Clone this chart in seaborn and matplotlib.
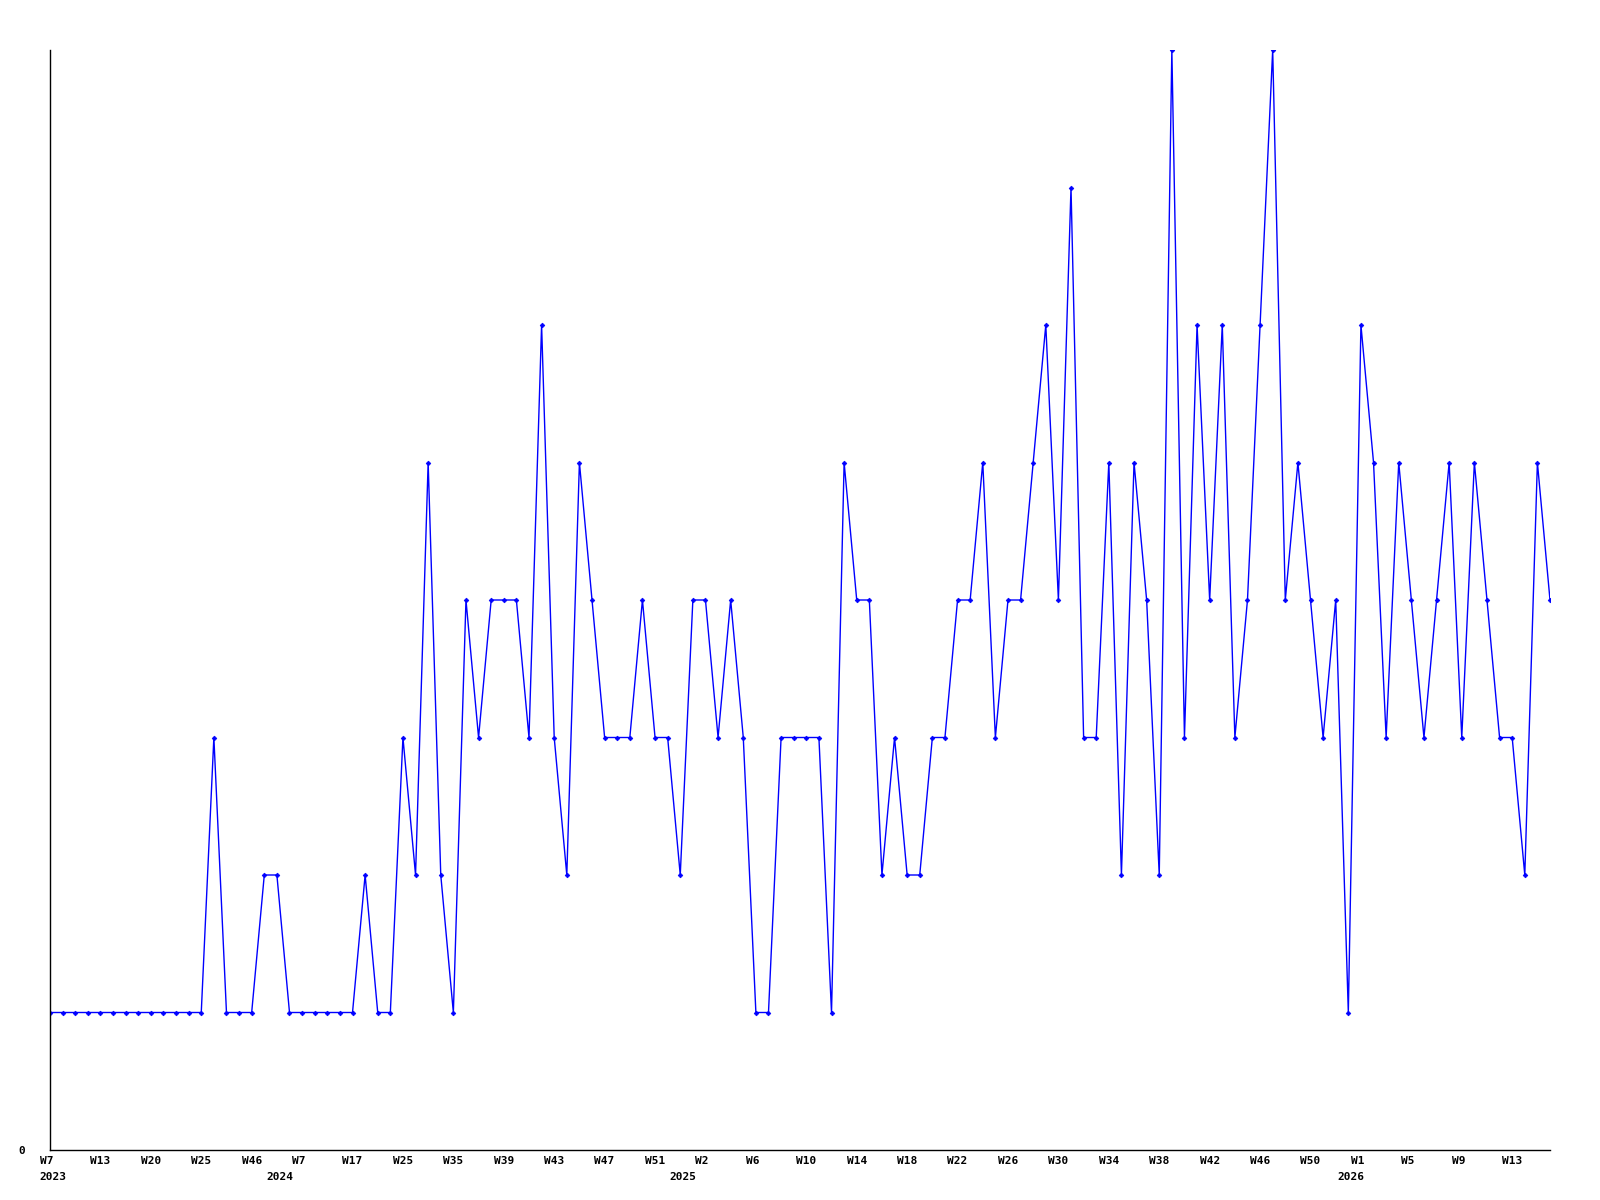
import matplotlib
matplotlib.use("Agg")
import matplotlib.pyplot as plt
import seaborn as sns
import pandas as pd

# ---- data ----
values = [1, 1, 1, 1, 1, 1, 1, 1, 1, 1, 1, 1, 1, 3, 1, 1, 1, 2, 2, 1,
          1, 1, 1, 1, 1, 2, 1, 1, 3, 2,
          5, 2, 1, 4, 3, 4, 4, 4, 3, 6,
          3, 2, 5, 4, 3, 3, 3, 4, 3, 3,
          2, 4, 4, 3, 4, 3, 1, 1, 3, 3,
          3, 3, 1, 5, 4, 4, 2, 3, 2, 2,
          3, 3, 4, 4, 5, 3, 4, 4, 5, 6,
          4, 7, 3, 3, 5, 2, 5, 4, 2, 8,
          3, 6, 4, 6, 3, 4, 6, 8, 4, 5,
          4, 3, 4, 1, 6, 5, 3, 5, 4, 3,
          4, 5, 3, 5, 4, 3, 3, 2, 5, 4]

week_tick_labels = ["W7", "W13", "W20", "W25", "W46", "W7", "W17", "W25", "W35", "W39",
                    "W43", "W47", "W51", "W2", "W6", "W10", "W14", "W18", "W22", "W26",
                    "W30", "W34", "W38", "W42", "W46", "W50", "W1", "W5", "W9", "W13"]
tick_every = 4

year_names = ["2023", "2024", "2025", "2026"]
year_first_index = [0, 18, 50, 103]

y_tick_values = [0]
y_tick_labels = ["0"]

# ---- plot ----
sns.set_style("white")
plt.rcParams["font.family"] = ["DejaVu Sans Mono", "DejaVu Sans"]

df = pd.DataFrame({"idx": range(len(values)), "count": values})

fig = plt.figure(figsize=(16, 12), dpi=100)
ax = fig.add_axes([50 / 1600, 1 - 1150 / 1200, 1500 / 1600, 1100 / 1200])

sns.lineplot(data=df, x="idx", y="count", ax=ax, color="#0000ff", linewidth=1.0,
             marker="D", markersize=2.4, markeredgecolor="#0000ff",
             markerfacecolor="#0000ff", markeredgewidth=0.5)

ax.set_xlim(0, len(values) - 1)
ax.set_ylim(0, max(values))

tick_pos = list(range(0, len(week_tick_labels) * tick_every, tick_every))
ax.set_xticks(tick_pos)
ax.set_xticklabels([lab.ljust(3) for lab in week_tick_labels],
                   fontsize=8, fontweight="bold", color="black")
ax.set_yticks(y_tick_values)
ax.set_yticklabels(y_tick_labels, fontsize=8, fontweight="bold", color="black")
ax.tick_params(axis="x", length=0, pad=4)
ax.tick_params(axis="y", length=0, pad=18)

for name, idx in zip(year_names, year_first_index):
    ax.annotate(name, xy=(idx, 0), xycoords=("data", "axes fraction"),
                xytext=(3, -27), textcoords="offset pixels",
                ha="center", va="center", fontsize=8, fontweight="bold",
                color="black", annotation_clip=False)

ax.set_xlabel("")
ax.set_ylabel("")
for side in ["top", "right"]:
    ax.spines[side].set_visible(False)
for side in ["left", "bottom"]:
    ax.spines[side].set_color("black")
    ax.spines[side].set_linewidth(1.0)
ax.grid(False)

fig.savefig("out.png", dpi=100, facecolor="white")
